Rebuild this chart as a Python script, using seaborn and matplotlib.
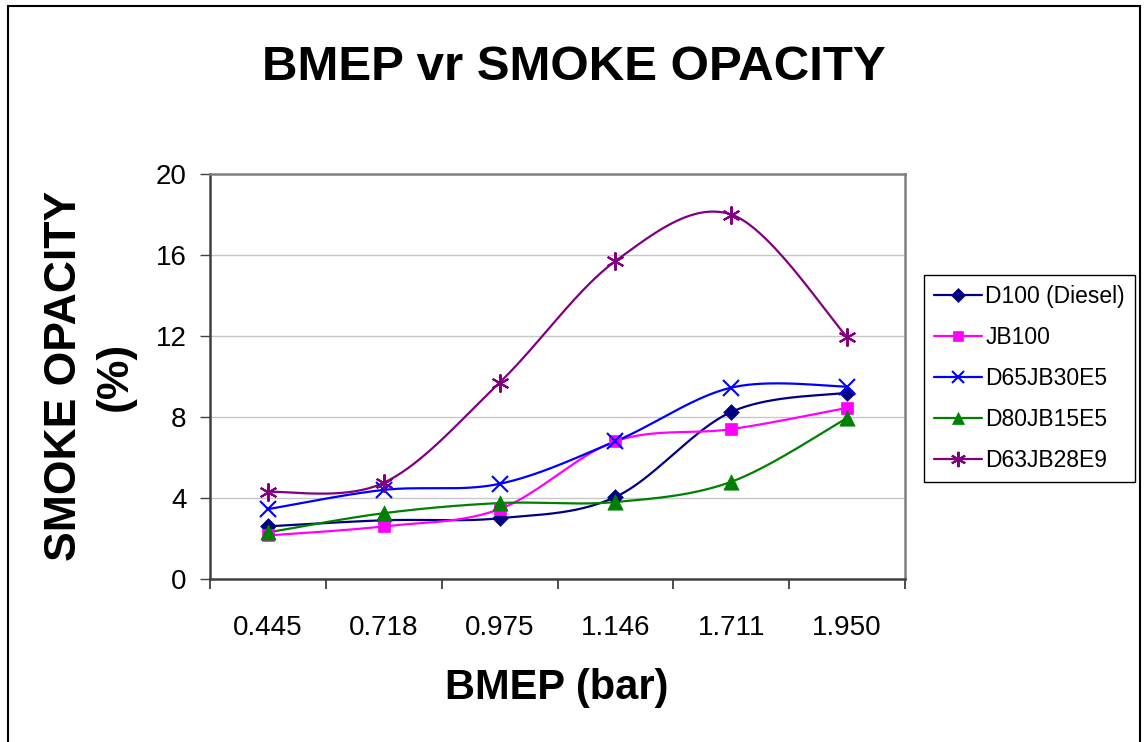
import numpy as np
import pandas as pd
import matplotlib
matplotlib.use("Agg")
import matplotlib.pyplot as plt
from matplotlib.lines import Line2D
from matplotlib.patches import Rectangle
import seaborn as sns

# ---- data ----
bmep_labels = ["0.445", "0.718", "0.975", "1.146", "1.711", "1.950"]
d100 = [2.6, 2.9, 3.0, 4.05, 8.25, 9.2]
jb100 = [2.15, 2.6, 3.45, 6.8, 7.4, 8.45]
d65jb30e5 = [3.45, 4.4, 4.7, 6.8, 9.45, 9.5]
d80jb15e5 = [2.3, 3.25, 3.75, 3.8, 4.8, 7.95]
d63jb28e9 = [4.3, 4.75, 9.7, 15.7, 18.0, 11.95]

series_names = ["D100 (Diesel)", "JB100", "D65JB30E5", "D80JB15E5", "D63JB28E9"]
series_values = [d100, jb100, d65jb30e5, d80jb15e5, d63jb28e9]
colors = ["#000080", "#FF00FF", "#0000FF", "#008000", "#800080"]
markers = ["D", "s", "x", "^", (6, 2, 0)]
marker_sizes = [8, 9, 11, 11, 13]


def smooth_curve(y, n=40):
    """Bezier smoothing through every point (spreadsheet-style smoothed line)."""
    y = np.asarray(y, dtype=float)
    x = np.arange(len(y), dtype=float)
    pts = np.column_stack([x, y])
    ext = np.vstack([pts[0], pts, pts[-1]])
    out = []
    t = np.linspace(0, 1, n)[:, None]
    for i in range(len(pts) - 1):
        p0 = ext[i + 1]
        p3 = ext[i + 2]
        c1 = p0 + (ext[i + 2] - ext[i]) / 6.0
        c2 = p3 - (ext[i + 3] - ext[i + 1]) / 6.0
        seg = ((1 - t) ** 3) * p0 + 3 * ((1 - t) ** 2) * t * c1 + 3 * (1 - t) * t ** 2 * c2 + t ** 3 * p3
        out.append(seg if i == 0 else seg[1:])
    seg = np.vstack(out)
    return seg[:, 0], seg[:, 1]


sns.set_theme(style="white")
plt.rcParams["font.family"] = ["Liberation Sans", "DejaVu Sans"]
plt.rcParams["text.color"] = "black"
plt.rcParams["axes.labelcolor"] = "black"
plt.rcParams["xtick.color"] = "black"
plt.rcParams["ytick.color"] = "black"

fig = plt.figure(figsize=(11.45, 7.42), dpi=100)
fig.patch.set_facecolor("white")

# outer chart frame
fig.add_artist(Rectangle((8 / 1145, -0.05), (1140 - 8) / 1145, (742 - 6) / 742 + 0.05,
                         transform=fig.transFigure, fill=False, edgecolor="black",
                         linewidth=1.5, zorder=0))

ax = fig.add_axes([210 / 1145, (742 - 579) / 742, (905 - 210) / 1145, (579 - 174) / 742])

for name, vals, col, mk, ms in zip(series_names, series_values, colors, markers, marker_sizes):
    xs, ys = smooth_curve(vals)
    curve = pd.DataFrame({"x": xs, "y": ys})
    sns.lineplot(data=curve, x="x", y="y", ax=ax, color=col, linewidth=1.6,
                 sort=False, estimator=None, zorder=3)
    pts = pd.DataFrame({"x": np.arange(len(vals)), "y": vals})
    if mk in ("x", (6, 2, 0)):
        ax.plot(pts["x"], pts["y"], linestyle="none", marker=mk, markersize=ms,
                markeredgecolor=col, markeredgewidth=1.5, color=col, zorder=4)
    else:
        sns.scatterplot(data=pts, x="x", y="y", ax=ax, marker=mk, s=ms ** 2,
                        color=col, edgecolor=col, linewidth=0.5, zorder=4)

ax.set_xlim(-0.5, 5.5)
ax.set_ylim(0, 20)
ax.set_yticks([0, 4, 8, 12, 16, 20])
ax.set_xticks(range(len(bmep_labels)))
ax.set_xticklabels(bmep_labels)
ax.set_xticks(np.arange(-0.5, 5.6, 1.0), minor=True)
ax.tick_params(axis="x", which="major", length=0, pad=26, labelsize=20, labelcolor="black")
ax.tick_params(axis="x", which="minor", length=7.5, width=1.3, color="#404040", bottom=True, direction="out")
ax.tick_params(axis="y", which="major", length=7, width=1.0, color="#404040", left=True,
               direction="out", pad=10, labelsize=20, labelcolor="black")
ax.set_xlabel("")
ax.set_ylabel("")
ax.grid(axis="y", color="#C8C8C8", linewidth=1.0)
ax.grid(axis="x", visible=False)
ax.set_axisbelow(True)
for side in ("left", "bottom"):
    ax.spines[side].set_color("#404040")
    ax.spines[side].set_linewidth(1.8)
for side in ("top", "right"):
    ax.spines[side].set_color("#808080")
    ax.spines[side].set_linewidth(1.8)

fig.text(574 / 1145, (742 - 68) / 742, "BMEP vr SMOKE OPACITY", ha="center", va="center",
         fontsize=35.5, fontweight="bold", color="black")
fig.text(557 / 1145, (742 - 688) / 742, "BMEP (bar)", ha="center", va="center",
         fontsize=30, fontweight="bold", color="black")
fig.text(90 / 1145, (742 - 376) / 742, "SMOKE OPACITY\n(%)", ha="center", va="center",
         rotation=90, fontsize=32, fontweight="bold", linespacing=1.3,
         multialignment="center", color="black")

handles = [Line2D([0], [0], color=c, linewidth=1.6, marker=m, markersize=s * 0.85,
                  markeredgewidth=1.5 if m in ("x", (6, 2, 0)) else 0.5, markeredgecolor=c)
           for c, m, s in zip(colors, markers, marker_sizes)]
leg = fig.legend(handles, series_names, loc="upper left",
                 bbox_to_anchor=(924 / 1145, (742 - 275) / 742), borderaxespad=0,
                 fontsize=16.5, frameon=True, fancybox=False, shadow=False,
                 handlelength=2.1, handletextpad=0.12, labelspacing=0.78, borderpad=0.45)
leg.get_frame().set_edgecolor("black")
leg.get_frame().set_linewidth(1.0)
leg.get_frame().set_facecolor("white")
leg.get_frame().set_alpha(1)
for txt in leg.get_texts():
    txt.set_color("black")

fig.savefig("out.png", dpi=100, facecolor="white")
